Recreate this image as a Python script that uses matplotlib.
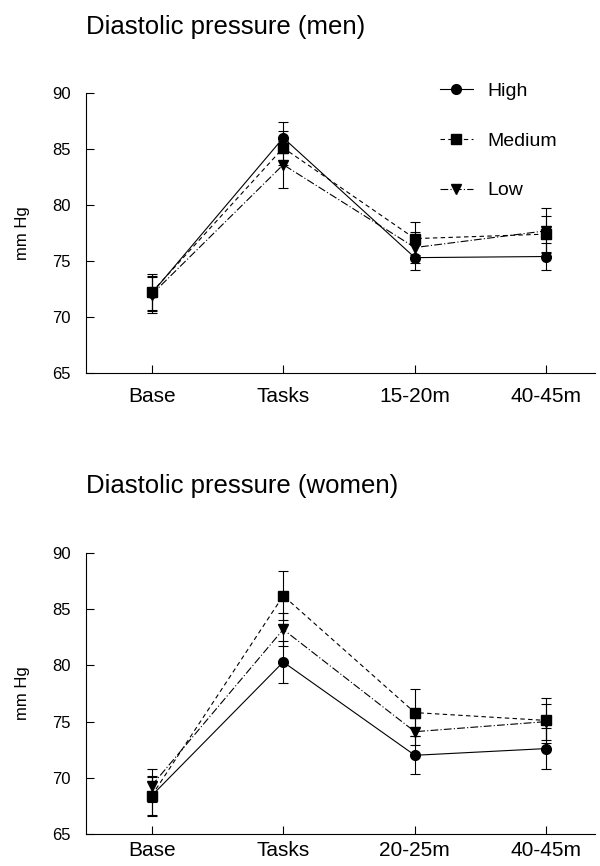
import numpy as np
import matplotlib
matplotlib.use('Agg')
import matplotlib.pyplot as plt

plt.rcParams['font.family'] = ['Liberation Sans', 'DejaVu Sans']

# Men
men_labels = ['Base', 'Tasks', '15-20m', '40-45m']
men_high = [72.1, 86.0, 75.3, 75.4]
men_high_err = [1.6, 1.4, 1.1, 1.2]
men_medium = [72.2, 85.1, 77.0, 77.4]
men_medium_err = [1.6, 1.5, 1.5, 1.6]
men_low = [72.0, 83.6, 76.2, 77.7]
men_low_err = [1.6, 2.1, 1.4, 2.0]

# Women
women_labels = ['Base', 'Tasks', '20-25m', '40-45m']
women_high = [68.4, 80.3, 72.0, 72.6]
women_high_err = [1.7, 1.9, 1.7, 1.8]
women_medium = [68.4, 86.2, 75.8, 75.1]
women_medium_err = [1.8, 2.2, 2.1, 2.0]
women_low = [69.3, 83.2, 74.1, 75.0]
women_low_err = [1.5, 1.5, 1.2, 1.6]

fig = plt.figure(figsize=(6, 8.66), dpi=100)
ax1 = fig.add_axes([0.143, 0.5693, 0.849, 0.3233])
ax2 = fig.add_axes([0.143, 0.037, 0.849, 0.3244])


def draw(ax, labels, high, high_err, med, med_err, low, low_err, title,
         xpad, legend=False):
    x = np.arange(len(labels))
    kw = dict(color='black', lw=0.8, ms=7, capsize=3.5, elinewidth=0.8, capthick=0.8)
    ax.errorbar(x, high, yerr=high_err, marker='o', ls='-', label='High', **kw)
    ax.errorbar(x, med, yerr=med_err, marker='s', ls=(0, (4, 3)), label='Medium', **kw)
    ax.errorbar(x, low, yerr=low_err, marker='v', ls=(0, (7, 2, 1, 2)), label='Low', **kw)
    ax.set_xlim(-0.5, 3.37)
    ax.set_ylim(65, 90)
    ax.set_yticks([65, 70, 75, 80, 85, 90])
    ax.set_xticks(x)
    ax.set_xticklabels(labels, fontsize=15)
    ax.tick_params(axis='y', labelsize=12, direction='in', length=5.5, width=0.8, pad=11)
    ax.tick_params(axis='x', direction='in', length=5.5, width=0.8, pad=xpad)
    for s in ['top', 'right']:
        ax.spines[s].set_visible(False)
    for s in ['left', 'bottom']:
        ax.spines[s].set_linewidth(0.8)
    ax.set_ylabel('mm Hg', fontsize=12)
    ax.yaxis.set_label_coords(-0.11, 0.5)
    ax.text(0.0, 1.212, title, transform=ax.transAxes, fontsize=18.5,
            ha='left', va='baseline')
    if legend:
        handles, lbls = ax.get_legend_handles_labels()
        handles = [h[0] for h in handles]
        ax.legend(handles, lbls, loc='upper left', bbox_to_anchor=(0.695, 1.039),
                  frameon=False, fontsize=14, handlelength=1.7, labelspacing=1.66,
                  handletextpad=0.72, borderpad=0, borderaxespad=0)


draw(ax1, men_labels, men_high, men_high_err, men_medium, men_medium_err,
     men_low, men_low_err, 'Diastolic pressure (men)', xpad=10, legend=True)
draw(ax2, women_labels, women_high, women_high_err, women_medium, women_medium_err,
     women_low, women_low_err, 'Diastolic pressure (women)', xpad=5)

fig.savefig('out.png', dpi=100)
